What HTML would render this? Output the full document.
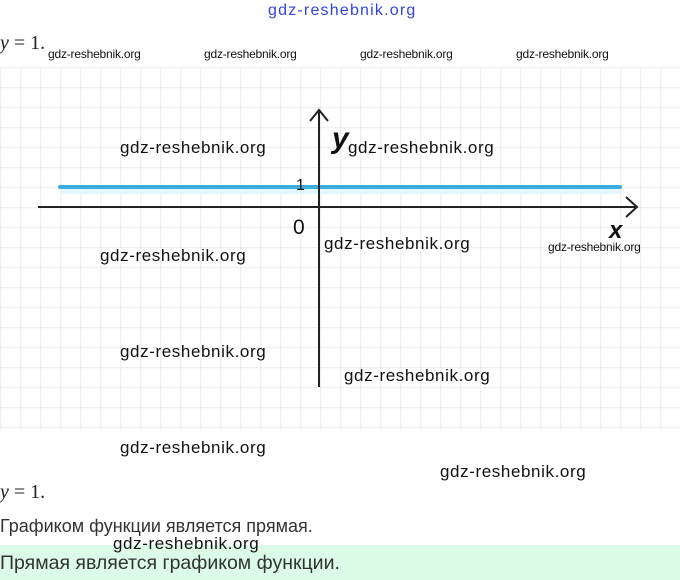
<!DOCTYPE html>
<html><head><meta charset="utf-8"><style>
body{margin:0;width:680px;height:580px;background:#fff;position:relative;overflow:hidden;font-family:"Liberation Sans",sans-serif}
.w{position:absolute;font-family:"Liberation Sans",sans-serif;color:#111;white-space:nowrap}
.s{font-size:12px;letter-spacing:-0.2px}.m{font-size:17px;letter-spacing:0.6px}
.t{position:absolute;font-family:"Liberation Sans",sans-serif;color:#333;white-space:nowrap}
.math{position:absolute;font-family:"Liberation Serif",serif;font-size:20px;color:#222}
</style></head><body>
<svg width="680" height="580" style="position:absolute;left:0;top:0">
<defs><pattern id="g" x="0.5" y="67.5" width="20" height="20" patternUnits="userSpaceOnUse"><path d="M0 0H20M0 0V20" stroke="#e0e0e0" stroke-width="1.3" fill="none"/></pattern></defs>
<rect x="0" y="67" width="680" height="363" fill="url(#g)"/>
<rect x="0" y="545" width="680" height="35" fill="#dcfce7"/>
<rect x="60" y="189" width="560" height="5" fill="#e3f6fb"/>
<line x1="60" y1="187" x2="620" y2="187" stroke="#3aaedc" stroke-width="4" stroke-linecap="round"/>
<line x1="38" y1="207" x2="637" y2="207" stroke="#222" stroke-width="2"/>
<polyline points="626,197 637,207 626,217" fill="none" stroke="#222" stroke-width="2"/>
<line x1="319" y1="110" x2="319" y2="387" stroke="#222" stroke-width="2"/>
<polyline points="310,121 319,110 328,121" fill="none" stroke="#222" stroke-width="2"/>
</svg>
<div class="w" style="left:268px;top:2px;font-size:16px;letter-spacing:1.2px;color:#3344dd">gdz-reshebnik.org</div>
<div class="math" style="left:0;top:32px"><i>y</i> = 1.</div>
<div class="w s" style="left:48px;top:47px">gdz-reshebnik.org</div>
<div class="w s" style="left:204px;top:47px">gdz-reshebnik.org</div>
<div class="w s" style="left:360px;top:47px">gdz-reshebnik.org</div>
<div class="w s" style="left:516px;top:47px">gdz-reshebnik.org</div>
<div class="w" style="left:332px;top:122px;font-size:30px;font-style:italic;font-weight:bold">y</div>
<div class="w m" style="left:120px;top:138px">gdz-reshebnik.org</div>
<div class="w m" style="left:348px;top:138px">gdz-reshebnik.org</div>
<div class="w" style="left:296px;top:177px;font-size:16px">1</div>
<div class="w" style="left:293px;top:216px;font-size:21px">0</div>
<div class="w" style="left:609px;top:217px;font-size:24px;font-style:italic;font-weight:bold">x</div>
<div class="w m" style="left:324px;top:234px">gdz-reshebnik.org</div>
<div class="w s" style="left:548px;top:240px">gdz-reshebnik.org</div>
<div class="w m" style="left:100px;top:246px">gdz-reshebnik.org</div>
<div class="w m" style="left:120px;top:342px">gdz-reshebnik.org</div>
<div class="w m" style="left:344px;top:366px">gdz-reshebnik.org</div>
<div class="w m" style="left:120px;top:438px">gdz-reshebnik.org</div>
<div class="w m" style="left:440px;top:462px">gdz-reshebnik.org</div>
<div class="math" style="left:0;top:481px"><i>y</i> = 1.</div>
<div class="t" style="left:0;top:516px;font-size:18px">Графиком функции является прямая.</div>
<div class="w m" style="left:113px;top:534px">gdz-reshebnik.org</div>
<div class="t" style="left:0;top:552px;font-size:19.5px">Прямая является графиком функции.</div>
</body></html>
